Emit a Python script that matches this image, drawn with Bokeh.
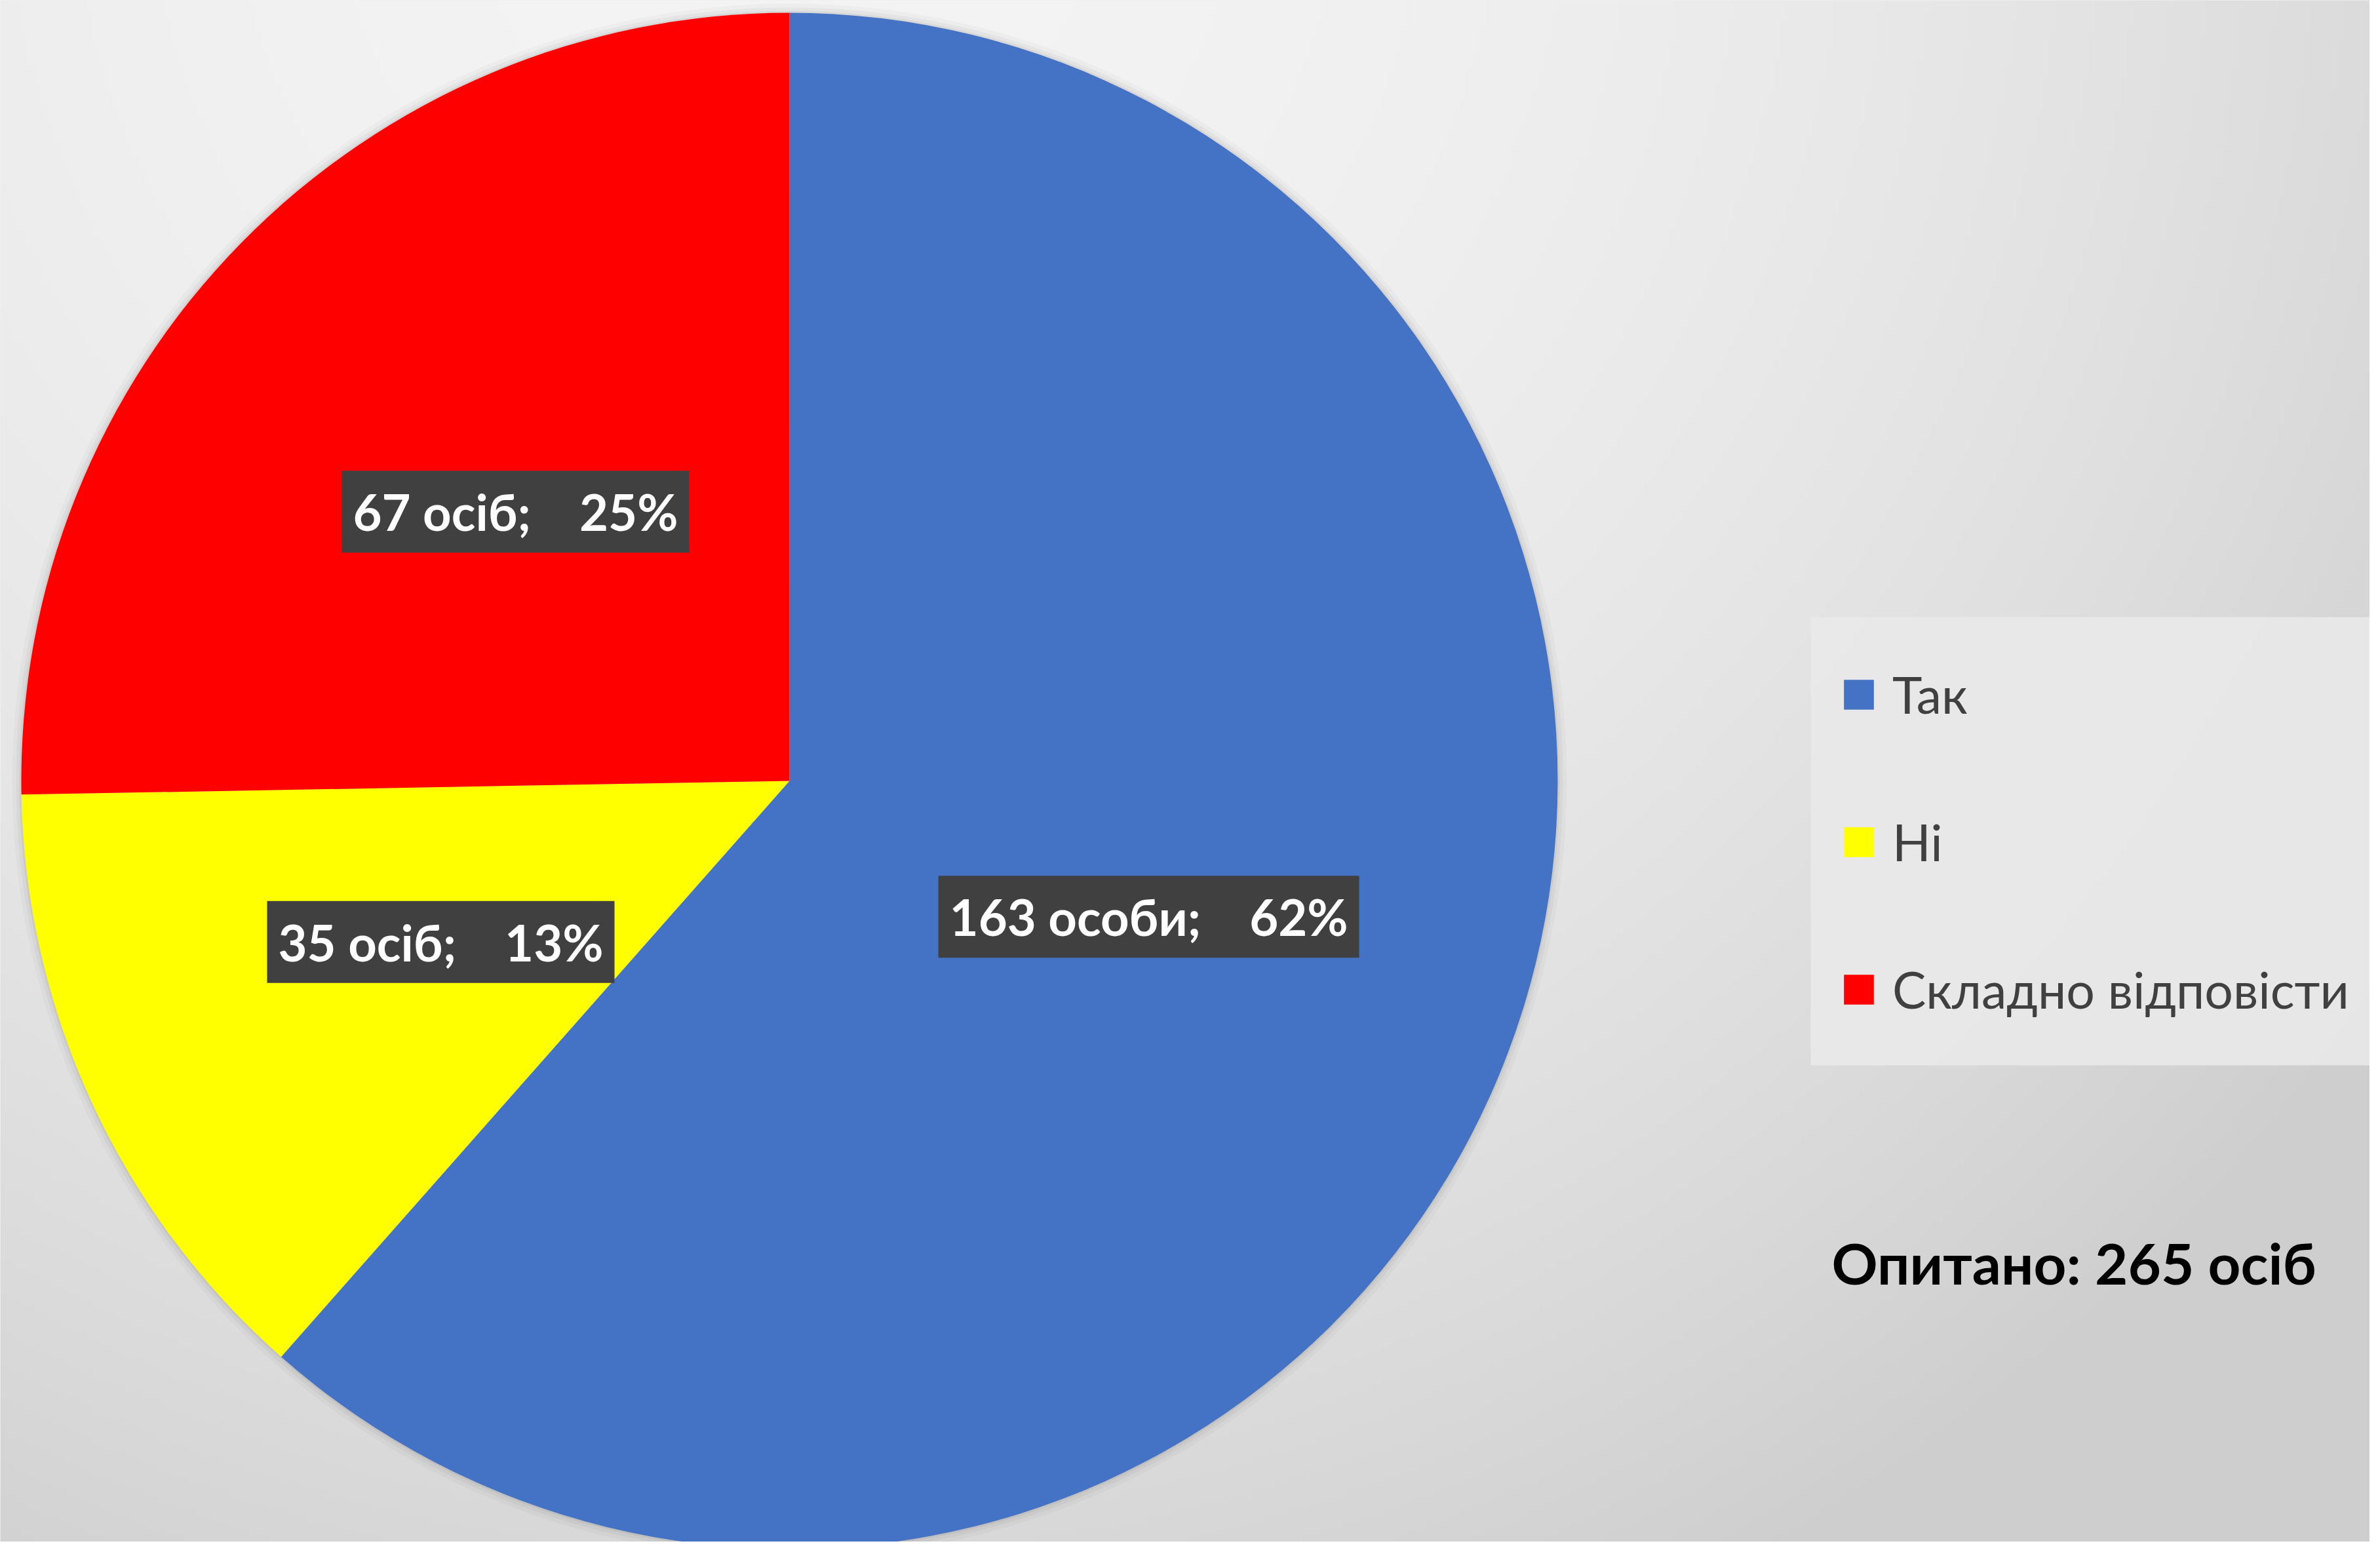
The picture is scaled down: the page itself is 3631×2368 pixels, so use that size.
import numpy as np
from bokeh.plotting import figure
from bokeh.models import (ColumnDataSource, Range1d, Label, Legend, LegendItem,
                          BoxAnnotation)
from bokeh.embed import file_html
from bokeh.resources import INLINE

# ---- data ----
categories = ["Так", "Ні", "Складно відповісти"]
counts = [163, 35, 67]
percents = [62, 13, 25]
units = ["особи", "осіб", "осіб"]
colors = ["#4472C4", "#FFFF00", "#FF0000"]
total_label = "Опитано: 265 осіб"

# ---- canvas ----
W, H = 3615, 2352
FONT = "Lato"

p = figure(width=W, height=H, output_backend="svg", toolbar_location=None,
           x_range=Range1d(0, W), y_range=Range1d(0, H), min_border=0)
p.axis.visible = False
p.grid.visible = False
p.outline_line_color = None
p.background_fill_color = "#e2e2e2"
p.border_fill_color = "#e2e2e2"

# soft radial background (decoration)
nx, ny = 362, 236
xs = (np.arange(nx) + 0.5) * W / nx
ys_top = H - (np.arange(ny) + 0.5) * H / ny
X, Y = np.meshgrid(xs, ys_top)
d = np.sqrt((X - 1200) ** 2 + (Y + 200) ** 2)
f = np.clip(d / 3000.0, 0, 1) ** 2
v = (244 - f * 38).astype(np.uint8)
img = np.empty((ny, nx), dtype=np.uint32)
view = img.view(dtype=np.uint8).reshape((ny, nx, 4))
view[:, :, 0] = v
view[:, :, 1] = v
view[:, :, 2] = v
view[:, :, 3] = 255
p.image_rgba(image=[img], x=0, y=0, dw=W, dh=H)

# ---- pie ----
cx, cy, R = 1204, 1161, 1172
tot = float(sum(counts))
fr = np.array(counts) / tot
cum = np.concatenate([[0], np.cumsum(fr)])
start = np.pi / 2 - 2 * np.pi * cum[:-1]
end = np.pi / 2 - 2 * np.pi * cum[1:]

# faint shadow around pie
for k, a in [(14, 0.025), (8, 0.035), (3, 0.05)]:
    p.circle(x=[cx], y=[cy], radius=R + k, fill_color="black", fill_alpha=a,
             line_color=None)

src = ColumnDataSource(dict(cat=categories, start=start, end=end, color=colors,
                            x=[cx] * 3, y=[cy] * 3))
r = p.wedge(x="x", y="y", radius=R, start_angle="start", end_angle="end",
            direction="clock", fill_color="color", line_color=None, source=src)

# ---- data labels ----
mid = np.pi / 2 - 2 * np.pi * (cum[:-1] + fr / 2)
for i in range(len(categories)):
    lx = cx + 0.5 * R * np.cos(mid[i])
    ly = cy + 0.5 * R * np.sin(mid[i])
    txt = f"{counts[i]} {units[i]}; " + "\u00a0" * 3 + f"{percents[i]}%"
    shadow = Label(x=lx, y=ly, text=txt, text_align="center", text_baseline="middle",
                   text_font=FONT, text_font_style="bold", text_font_size="76px",
                   text_alpha=0, background_fill_color="black",
                   background_fill_alpha=0.3, padding=17, x_offset=7, y_offset=-10)
    p.add_layout(shadow)
    lab = Label(x=lx, y=ly, text=txt, text_align="center", text_baseline="middle",
                text_font=FONT, text_font_style="bold", text_font_size="76px",
                text_color="white", background_fill_color="#404040",
                background_fill_alpha=1.0, padding=17)
    p.add_layout(lab)

# ---- legend ----
box = BoxAnnotation(left=2762, right=W, top=H - 941, bottom=H - 1625,
                    fill_color="#e9e9e9", fill_alpha=0.9, line_color=None)
p.add_layout(box)

items = [LegendItem(label=categories[i], renderers=[r], index=i)
         for i in range(len(categories))]
legend = Legend(items=items, location=(2807, 793), orientation="vertical",
                background_fill_alpha=0, border_line_color=None, padding=0,
                margin=0, glyph_width=57, glyph_height=57, label_standoff=23,
                label_height=100, spacing=125, label_text_font=FONT,
                label_text_font_size="77px", label_text_color="#404040")
p.add_layout(legend)

# ---- total ----
p.add_layout(Label(x=2794, y=H - 1926, text=total_label, text_align="left",
                   text_baseline="middle", text_font=FONT, text_font_style="bold",
                   text_font_size="87px", text_color="black"))

open("out.html", "w").write(file_html(p, INLINE))
